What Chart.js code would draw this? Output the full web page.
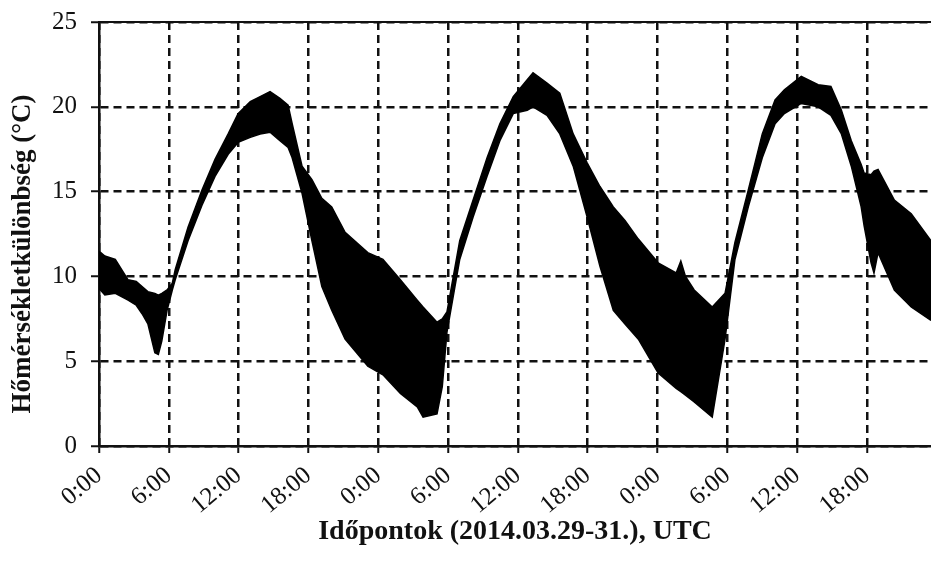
<!DOCTYPE html>
<html lang="hu">
<head>
  <meta charset="UTF-8">
  <title>Hőmérsékletkülönbség</title>
  <script src="https://cdn.jsdelivr.net/npm/chart.js@4.4.1/dist/chart.umd.min.js"></script>
  <style>
    * { box-sizing: border-box; margin: 0; padding: 0; }
    html, body { width: 931px; height: 561px; overflow: hidden; background: #fff; }
    .chart-container { position: relative; width: 931px; height: 561px; }
  </style>
</head>
<body>
  <div class="chart-container">
    <canvas id="chart" width="931" height="561"></canvas>
  </div>

  <script>
    // órák 2014.03.29 0:00 UTC-től
    const hours = [0, 0.5, 1.4, 2.5, 3.2, 3.7, 4.2, 4.8, 5.1, 5.4, 5.85, 6.3, 6.55, 7.65, 8.85, 9.97, 11.1, 11.95,
      13, 13.85, 14.7, 15.55, 16.25, 16.6, 17.45, 18.3, 19.15, 20, 21.15, 23.1, 24.4, 25.9, 27.35, 27.85,
      29.05, 29.5, 29.9, 31, 32.15, 33.35, 34.45, 35.6, 36.8, 37.3, 38.5, 39.6, 40.75, 41.95, 43.05, 44.2,
      45.2, 46.35, 48.05, 49.6, 50, 50.4, 51.15, 52.7, 53.8, 54.65, 55.8, 57, 58.1, 58.9, 60.35, 61.8,
      62.9, 63.8, 64.65, 65.5, 65.75, 66.35, 66.6, 66.95, 68.35, 69.8, 71.5];
    // a sáv felső széle (°C)
    const upper = [11.5, 11.2, 11.0, 9.8, 9.7, 9.4, 9.1, 9.0, 8.9, 9.0, 9.2, 9.6, 10.4, 12.9, 15.1, 16.9, 18.4, 19.6,
      20.3, 20.6, 20.9, 20.5, 20.1, 19.0, 16.5, 15.7, 14.6, 14.1, 12.6, 11.4, 11.0, 9.8, 8.6, 8.2,
      7.3, 7.5, 7.9, 12.1, 14.5, 17.0, 19.0, 20.6, 21.6, 22.0, 21.4, 20.8, 18.4, 16.7, 15.3, 14.1,
      13.3, 12.2, 10.8, 10.2, 10.9, 10.0, 9.2, 8.2, 9.0, 12.0, 15.1, 18.4, 20.4, 21.0, 21.8, 21.3,
      21.2, 19.8, 18.0, 16.6, 16.1, 16.0, 16.2, 16.3, 14.5, 13.7, 12.1];
    // a sáv alsó széle (°C)
    const lower = [9.3, 8.9, 9.0, 8.6, 8.3, 7.8, 7.2, 5.5, 5.4, 6.2, 8.0, 9.2, 9.8, 12.1, 14.2, 15.9, 17.2, 17.9,
      18.2, 18.4, 18.5, 18.0, 17.6, 17.0, 14.9, 12.1, 9.4, 8.0, 6.3, 4.7, 4.2, 3.1, 2.3, 1.7,
      1.9, 3.5, 6.7, 11.0, 13.5, 15.9, 18.0, 19.6, 19.8, 20.0, 19.5, 18.4, 16.5, 13.5, 10.6, 8.0,
      7.2, 6.3, 4.3, 3.4, 3.2, 3.0, 2.6, 1.7, 6.3, 11.0, 14.1, 17.0, 19.0, 19.6, 20.2, 20.0,
      19.5, 18.4, 16.5, 14.1, 13.0, 10.8, 10.2, 11.4, 9.2, 8.2, 7.4];

    const xTicks = [0, 6, 12, 18, 24, 30, 36, 42, 48, 54, 60, 66];
    const yTitle = 'Hőmérsékletkülönbség (°C)';
    const xTitle = 'Időpontok (2014.03.29-31.), UTC';

    const serif = "'Liberation Serif', 'Times New Roman', serif";
    const ink = '#111';

    const toPoints = arr => hours.map((h, i) => ({ x: h, y: arr[i] }));

    const chart = new Chart(document.getElementById('chart'), {
      type: 'line',
      data: {
        datasets: [
          {
            label: 'felső',
            data: toPoints(upper),
            borderColor: '#000',
            backgroundColor: '#000',
            borderWidth: 1.5,
            pointRadius: 0,
            tension: 0,
            fill: '+1',
          },
          {
            label: 'alsó',
            data: toPoints(lower),
            borderColor: '#000',
            borderWidth: 1.5,
            pointRadius: 0,
            tension: 0,
            fill: false,
          }
        ]
      },
      options: {
        responsive: false,
        animation: false,
        events: [],
        layout: { padding: { top: 22, right: 0, left: 0, bottom: 0 } },
        plugins: {
          legend: { display: false },
          tooltip: { enabled: false },
        },
        scales: {
          x: {
            type: 'linear',
            min: 0,
            max: 71.5,
            afterBuildTicks: s => { s.ticks = xTicks.map(v => ({ value: v })); },
            afterFit: s => { s.height = 115; },
            ticks: {
              callback: v => (v % 24) + ':00',
              autoSkip: false,
              minRotation: 40,
              maxRotation: 40,
              color: ink,
              padding: 8,
              font: { family: serif, size: 25 },
            },
            grid: { color: ink, lineWidth: 2.5, tickLength: 7, tickWidth: 2, tickColor: ink },
            border: { display: true, color: ink, width: 2.5, dash: [8, 5] },
            title: {
              display: true,
              text: xTitle,
              color: ink,
              font: { family: serif, size: 28, weight: 'bold' },
              padding: { top: 0, bottom: 12 },
            },
          },
          xTop: {
            type: 'linear',
            position: 'top',
            min: 0,
            max: 1,
            afterFit: s => { s.height = 0; },
            ticks: { display: false },
            grid: { display: false, drawTicks: false },
            border: { display: true, color: ink, width: 2 },
          },
          y: {
            min: 0,
            max: 25,
            afterFit: s => { s.width = 99; s.paddingTop = 0; s.paddingBottom = 0; },
            ticks: {
              stepSize: 5,
              color: ink,
              padding: 14,
              font: { family: serif, size: 25 },
            },
            grid: { color: ink, lineWidth: 2.5, tickLength: 8, tickWidth: 2, tickColor: ink },
            border: { display: true, color: ink, width: 2.5, dash: [8, 5] },
          }
        }
      },
      plugins: [
        // függőleges tengelycím, kissé lejjebb tolva mint az eredetin
        {
          id: 'yTitle',
          afterDraw(chart) {
            const { ctx, chartArea } = chart;
            ctx.save();
            ctx.translate(23, (chartArea.top + chartArea.bottom) / 2 + 20);
            ctx.rotate(-Math.PI / 2);
            ctx.font = 'bold 27px ' + serif;
            ctx.fillStyle = ink;
            ctx.textAlign = 'center';
            ctx.textBaseline = 'middle';
            ctx.fillText(yTitle, 0, 0);
            ctx.restore();
          }
        }
      ]
    });
  </script>
</body>
</html>
